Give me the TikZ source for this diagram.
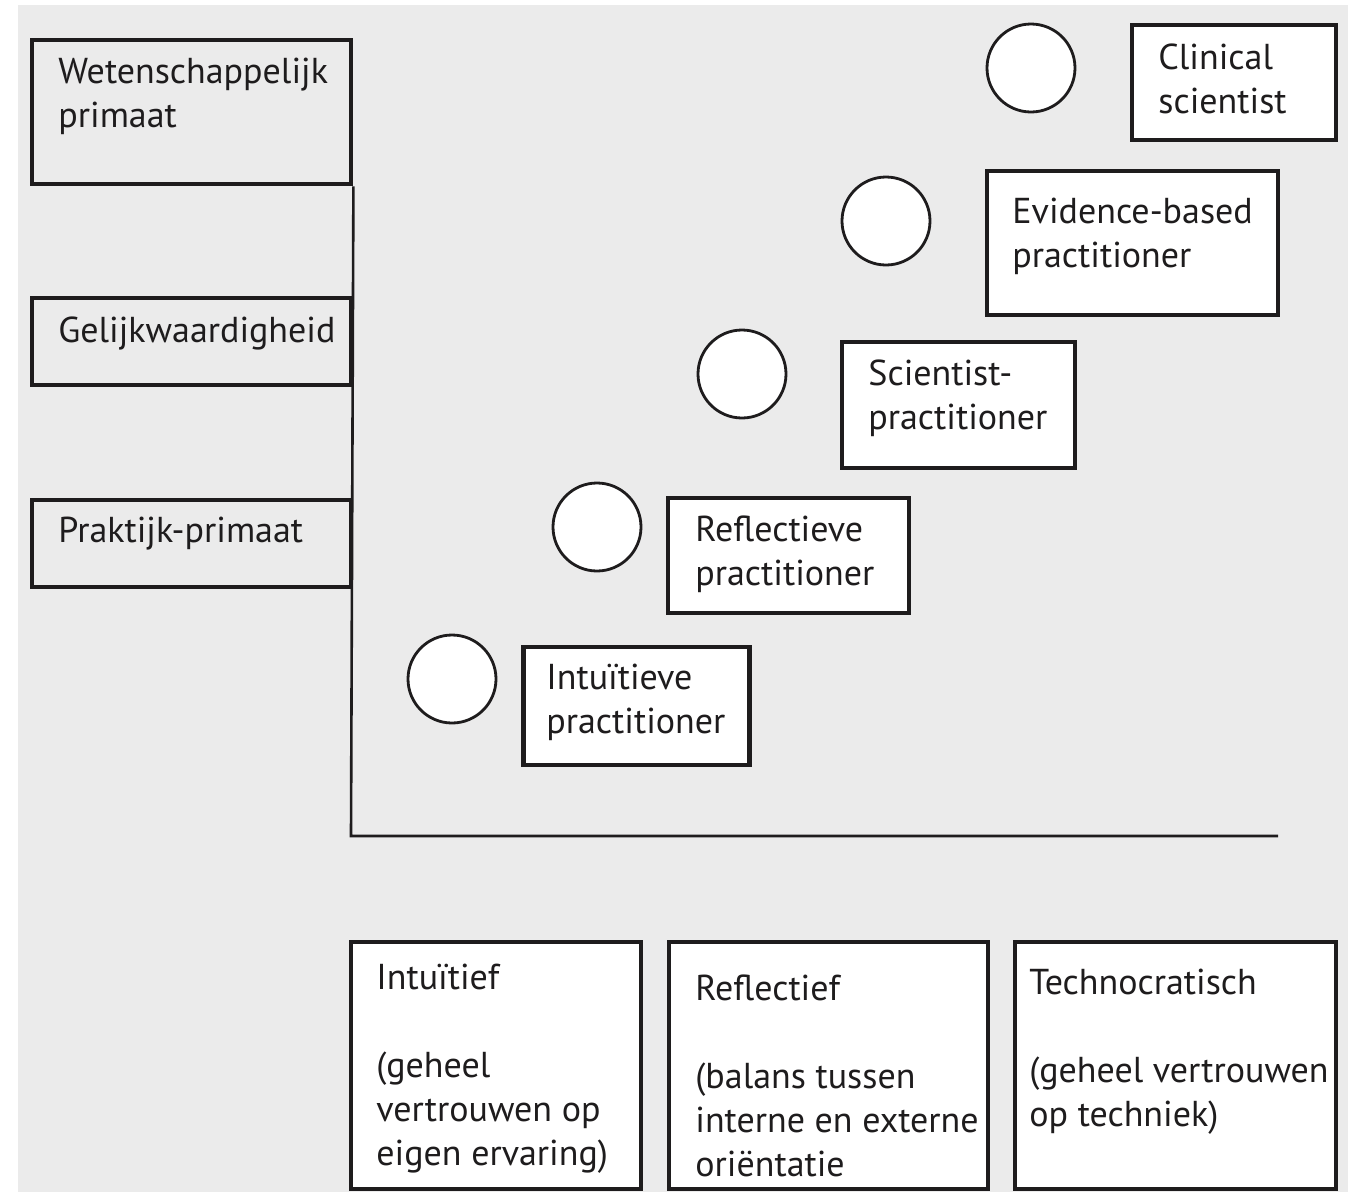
\documentclass[tikz,border=0pt]{standalone}
\usepackage{fontspec}
\setmainfont{PT Sans}
\usetikzlibrary{positioning}
\definecolor{panel}{HTML}{EBEBEB}
\definecolor{ink}{HTML}{1E1C1D}

\begin{document}
\begin{tikzpicture}[x=0.5pt,y=-0.5pt,
    every node/.style={font=\fontsize{18}{22}\selectfont, text=ink},
    levelbox/.style={draw=ink, line width=2.4pt, fill=panel, inner sep=0pt},
    rolebox/.style={draw=ink, line width=2.4pt, fill=white, inner sep=0pt},
    dot/.style={circle, draw=ink, line width=1.4pt, fill=white, minimum size=44pt, inner sep=0pt},
    txt/.style={anchor=north west, align=left, inner sep=0pt}]
  \useasboundingbox (0,0) rectangle (1355,1195);
  \fill[panel] (18,5) rectangle (1348,1192);
  % axes
  \coordinate (origin) at (351,836);
  \coordinate (xend)   at (1278,836);
  \node[levelbox, minimum width=159.5pt, minimum height=72pt]   (wp) at (191.5,112)   {};
  \node[levelbox, minimum width=159.5pt, minimum height=43.5pt] (gw) at (191.5,341.5) {};
  \node[levelbox, minimum width=159.5pt, minimum height=43.5pt] (pp) at (191.5,543.5) {};
  \draw[ink, line width=1.3pt] (wp.south east) -- (origin) -- (xend);
  \node[txt] (wpText) at (58,58)  {Wetenschappelijk\\primaat};
  \node[txt] (gwText) at (58,316) {Gelijkwaardigheid};
  \node[txt] (ppText) at (58,517) {Praktijk-primaat};
  % roles
  \node[dot] (c1) at (452,679) {};
  \node[dot] (c2) at (597,527) {};
  \node[dot] (c3) at (742,374) {};
  \node[dot] (c4) at (886,221) {};
  \node[dot] (c5) at (1031,68) {};
  \node[rolebox, minimum width=113pt,   minimum height=59pt]   (ip) at (636.5,706)   {};
  \node[rolebox, minimum width=120.5pt, minimum height=57.5pt] (rp) at (788.5,555.5) {};
  \node[rolebox, minimum width=116.5pt, minimum height=63pt]   (sp) at (958.5,405)   {};
  \node[rolebox, minimum width=145.5pt, minimum height=72pt]   (ep) at (1132.5,243)  {};
  \node[rolebox, minimum width=102pt,   minimum height=57.5pt] (cs) at (1234,82.5)   {};
  \node[txt] (ipText) at (546,664)  {Intuïtieve\\practitioner};
  \node[txt] (rpText) at (695,515)  {Reflectieve\\practitioner};
  \node[txt] (spText) at (868,359)  {Scientist-\\practitioner};
  \node[txt] (epText) at (1012,198) {Evidence-based\\practitioner};
  \node[txt] (csText) at (1158,43)  {Clinical\\scientist};
  % styles of working
  \node[rolebox, minimum width=145pt,   minimum height=123.5pt] (it) at (496,1065.5)    {};
  \node[rolebox, minimum width=159.5pt, minimum height=123.5pt] (rf) at (828.5,1065.5)  {};
  \node[rolebox, minimum width=160.5pt, minimum height=123.5pt] (tc) at (1175.5,1065.5) {};
  \node[txt] (itText) at (376,964)  {Intuïtief\\[22pt](geheel\\vertrouwen op\\eigen ervaring)};
  \node[txt] (rfText) at (695,974)  {Reflectief\\[22pt](balans tussen\\interne en externe\\oriëntatie};
  \node[txt] (tcText) at (1029,969) {Technocratisch\\[22pt](geheel vertrouwen\\op techniek)};
\end{tikzpicture}
\end{document}
